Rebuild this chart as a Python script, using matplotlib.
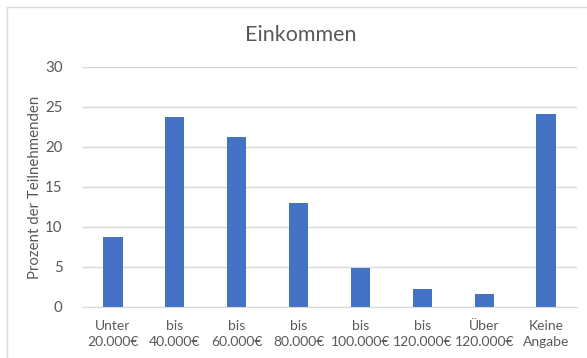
import matplotlib
matplotlib.use("Agg")
import matplotlib.pyplot as plt
from matplotlib.patches import Rectangle

plt.rcParams['font.family'] = ['Lato', 'DejaVu Sans']

categories = ["Unter\n20.000€", "bis\n40.000€", "bis\n60.000€", "bis\n80.000€",
              "bis\n100.000€", "bis\n120.000€", "Über\n120.000€", "Keine\nAngabe"]
values = [8.8, 23.7, 21.3, 13.0, 4.9, 2.3, 1.6, 24.1]
yticks = [0, 5, 10, 15, 20, 25, 30]

TEXT = '#595959'
GRID = '#d9d9d9'
BAR = '#4472c4'

fig = plt.figure(figsize=(5.87, 3.58), dpi=100)
fig.patch.set_facecolor('white')

# chart area frame (runs off the right and bottom edges)
fig.patches.append(Rectangle((7 / 587, -0.05), 1.0, 1 - 7 / 358 + 0.05,
                             transform=fig.transFigure, fill=False,
                             edgecolor=GRID, linewidth=1.0))

ax = fig.add_axes([82 / 587, 1 - 307 / 358, (577 - 82) / 587, (307 - 67) / 358])

x = range(len(categories))
ax.bar(x, values, width=0.31, color=BAR, zorder=3)

ax.set_ylim(0, 30)
ax.set_xlim(-0.5, len(categories) - 0.5)
ax.set_yticks(yticks)
ax.yaxis.grid(True, color=GRID, linewidth=1.0, zorder=0)
ax.set_xticks(list(x))
ax.set_xticklabels(categories, fontsize=10, color=TEXT, linespacing=1.45)
ax.tick_params(axis='y', length=0, pad=14, labelsize=10.8, labelcolor=TEXT)
ax.tick_params(axis='x', length=0, pad=9)

for s in ['top', 'right', 'left']:
    ax.spines[s].set_visible(False)
ax.spines['bottom'].set_color(GRID)
ax.spines['bottom'].set_zorder(4)

ax.set_ylabel('Prozent der Teilnehmenden', fontsize=10.8, color=TEXT, labelpad=2)
fig.text(301 / 587, 1 - 35 / 358, 'Einkommen', fontsize=15.5, color=TEXT,
         ha='center', va='center')

fig.savefig('out.png', dpi=100)
